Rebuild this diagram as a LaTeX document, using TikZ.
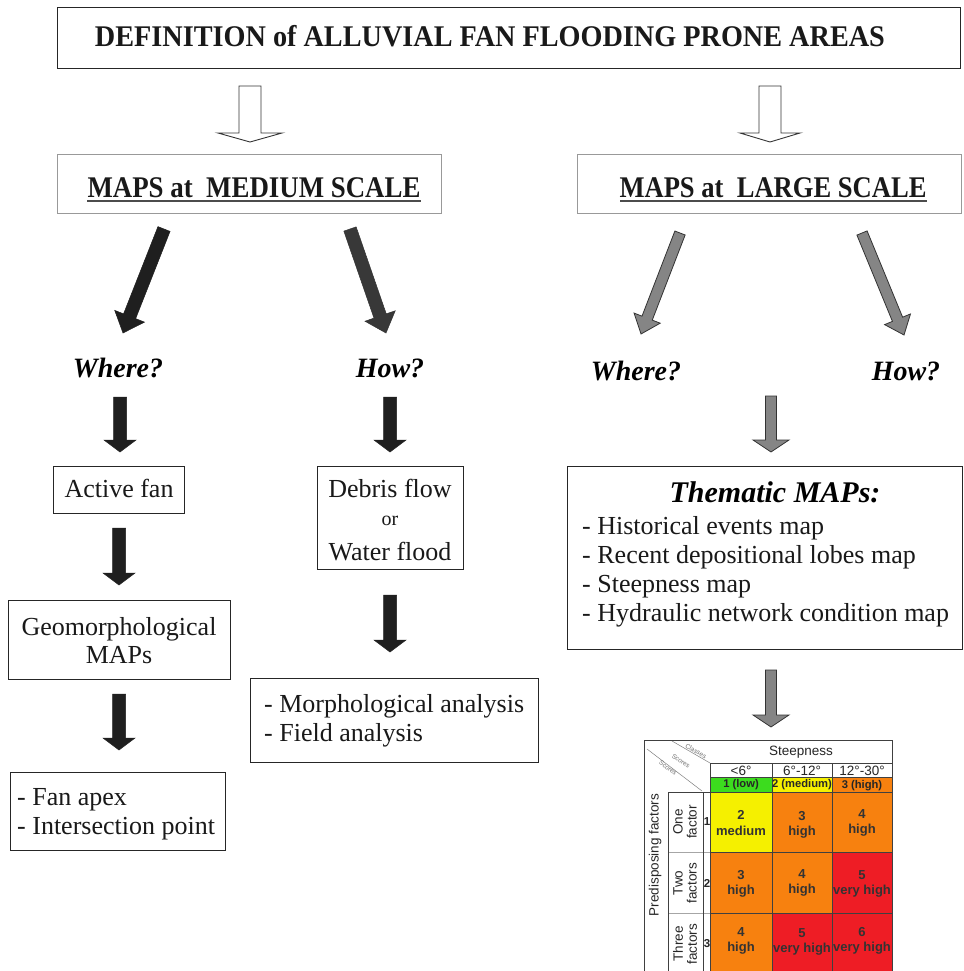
\documentclass[tikz,border=0pt]{standalone}
\usepackage{fontspec}
\setmainfont{Liberation Serif}
\setsansfont{Liberation Sans}
\usepackage{graphicx}
\usetikzlibrary{calc}
\definecolor{cgreen}{RGB}{60,220,30}
\definecolor{cyellow}{RGB}{245,240,0}
\definecolor{corange}{RGB}{247,129,15}
\definecolor{cred}{RGB}{238,29,37}
\newcommand{\fatarrow}[6]{%
  \coordinate (fahead) at ($(#3)!#6!(#2)$);
  \path[#1] ($(#2)!#4!90:(#3)$) -- ($(fahead)!#4!-90:(#2)$) -- ($(fahead)!#5!-90:(#2)$) -- (#3)
    -- ($(fahead)!#5!90:(#2)$) -- ($(fahead)!#4!90:(#2)$) -- ($(#2)!#4!-90:(#3)$) -- cycle;
}
\begin{document}
\begin{tikzpicture}[x=1pt,y=-1pt,
  box/.style={draw=black!85, line width=1pt, inner sep=0pt, anchor=north west},
  graybox/.style={draw=black!40, line width=1pt, inner sep=0pt, anchor=north west},
  blk/.style={fill=black!88, draw=black!88, line width=0.5pt},
  blk2/.style={fill=black!78, draw=black!80, line width=0.5pt},
  gry/.style={fill=black!48, draw=black!80, line width=0.8pt},
  hollow/.style={fill=white, draw=black!80, line width=0.9pt},
  quest/.style={font=\fontsize{28}{28}\selectfont\bfseries\itshape, anchor=base, inner sep=0pt},
  body/.style={font=\fontsize{26}{29}\selectfont, inner sep=0pt, text=black!90},
  head/.style={font=\fontsize{30}{30}\selectfont\bfseries, anchor=base, inner sep=0pt, text=black!90},
  tline/.style={draw=black!75, line width=0.6pt},
  lline/.style={draw=black!35, line width=0.6pt},
  cell/.style={font=\sffamily\bfseries\fontsize{13}{15.5}\selectfont, text=black!80, align=center, inner sep=0pt},
  hdr/.style={font=\sffamily\fontsize{13.5}{14}\selectfont, text=black!85, inner sep=0pt},
  sc/.style={font=\sffamily\bfseries\fontsize{11.2}{12}\selectfont, text=black!85, inner sep=0pt},
  lab/.style={font=\sffamily\fontsize{13.5}{14}\selectfont, text=black!85, align=center, inner sep=0pt, rotate=90},
  tiny/.style={font=\sffamily\fontsize{6.5}{7}\selectfont, text=black!55, inner sep=0pt}
]
\useasboundingbox (0,0) rectangle (963,971);
\clip (0,0) rectangle (963,971);
\fill[white] (0,0) rectangle (963,971);

% ---------- title ----------
\node[box, minimum width=903pt, minimum height=61pt] (title) at (57,7) {};
\node[head] (titletext) at (490,47) {\resizebox{790pt}{\height}{DEFINITION of ALLUVIAL FAN FLOODING PRONE AREAS}};

% hollow arrows
\coordinate (h1s) at (250,86); \coordinate (h1e) at (250,142);
\coordinate (h2s) at (770,86); \coordinate (h2e) at (770,142);
\fatarrow{hollow}{h1s}{h1e}{11pt}{32pt}{9pt}
\fatarrow{hollow}{h2s}{h2e}{11pt}{30pt}{9pt}

% ---------- scale boxes ----------
\node[graybox, minimum width=384pt, minimum height=59pt] (medium) at (57,154) {};
\node[head] (mediumtext) at (254,197) {\resizebox{333pt}{\height}{MAPS at\ \ MEDIUM SCALE}};
\draw[black!70, line width=1.6pt] (87,201) -- (421,201);
\node[graybox, minimum width=384pt, minimum height=59pt] (large) at (577,154) {};
\node[head] (largetext) at (773,197) {\resizebox{307pt}{\height}{MAPS at\ \ LARGE SCALE}};
\draw[black!70, line width=1.6pt] (620,201) -- (927,201);

% diagonal arrows
\coordinate (d1s) at (164,229); \coordinate (d1e) at (123,333);
\coordinate (d2s) at (350,229); \coordinate (d2e) at (386,333);
\coordinate (d3s) at (680,233); \coordinate (d3e) at (641,334);
\coordinate (d4s) at (862,233); \coordinate (d4e) at (904,335);
\fatarrow{blk}{d1s}{d1e}{6.5pt}{16pt}{18pt}
\fatarrow{blk2}{d2s}{d2e}{6.5pt}{16pt}{18pt}
\fatarrow{gry}{d3s}{d3e}{5.5pt}{14pt}{17pt}
\fatarrow{gry}{d4s}{d4e}{5.5pt}{14pt}{17pt}

% questions
\node[quest] (where1) at (118,377) {Where?};
\node[quest] (how1) at (390,377) {How?};
\node[quest] (where2) at (636,380) {Where?};
\node[quest] (how2) at (906,380) {How?};

% vertical arrows
\coordinate (v1s) at (120,397); \coordinate (v1e) at (120,452);
\coordinate (v2s) at (390,397); \coordinate (v2e) at (390,452);
\coordinate (v3s) at (771,396); \coordinate (v3e) at (771,452);
\fatarrow{blk}{v1s}{v1e}{6.5pt}{16pt}{12pt}
\fatarrow{blk}{v2s}{v2e}{6.5pt}{16pt}{12pt}
\fatarrow{gry}{v3s}{v3e}{5.5pt}{18pt}{12pt}

% ---------- left column ----------
\node[box, minimum width=131pt, minimum height=47pt] (active) at (53,466) {};
\node[body, anchor=base] (activetext) at (119,497) {Active fan};
\coordinate (v4s) at (119,528); \coordinate (v4e) at (119,585);
\fatarrow{blk}{v4s}{v4e}{6.5pt}{16pt}{12pt}
\node[box, minimum width=222pt, minimum height=79pt] (geo) at (8,600) {};
\node[body, anchor=base] (geotext1) at (119,635) {Geomorphological};
\node[body, anchor=base] (geotext2) at (119,663) {MAPs};
\coordinate (v5s) at (119,694); \coordinate (v5e) at (119,750);
\fatarrow{blk}{v5s}{v5e}{6.5pt}{16pt}{12pt}
\node[box, minimum width=215pt, minimum height=78pt] (apex) at (10,772) {};
\node[body, anchor=base west] (apex1) at (17,805) {- Fan apex};
\node[body, anchor=base west] (apex2) at (17,834) {- Intersection point};

% ---------- middle column ----------
\node[box, minimum width=146pt, minimum height=103pt] (debris) at (317,466) {};
\node[body, anchor=base] (debris1) at (390,497) {Debris flow};
\node[body, anchor=base, font=\fontsize{20}{22}\selectfont] (debris2) at (390,525) {or};
\node[body, anchor=base] (debris3) at (390,560) {Water flood};
\coordinate (v6s) at (390,595); \coordinate (v6e) at (390,652);
\fatarrow{blk}{v6s}{v6e}{6.5pt}{16pt}{12pt}
\node[box, minimum width=288pt, minimum height=84pt] (morph) at (250,678) {};
\node[body, anchor=base west] (morph1) at (264,712) {- Morphological analysis};
\node[body, anchor=base west] (morph2) at (264,741) {- Field analysis};

% ---------- right column ----------
\node[box, minimum width=395pt, minimum height=183pt] (them) at (567,466) {};
\node[quest, font=\fontsize{30}{30}\selectfont\bfseries\itshape] (themtitle) at (775,502) {Thematic MAPs:};
\node[body, anchor=base west] (them1) at (582,534) {- Historical events map};
\node[body, anchor=base west] (them2) at (582,563) {- Recent depositional lobes map};
\node[body, anchor=base west] (them3) at (582,592) {- Steepness map};
\node[body, anchor=base west] (them4) at (582,621) {- Hydraulic network condition map};
\coordinate (v7s) at (771,670); \coordinate (v7e) at (771,727);
\fatarrow{gry}{v7s}{v7e}{5.5pt}{18pt}{12pt}

% ---------- table ----------
\fill[cgreen] (710,777) rectangle (772,792);
\fill[cyellow] (772,777) rectangle (832,792);
\fill[corange] (832,777) rectangle (892,792);
\fill[cyellow] (710,792) rectangle (772,852);
\fill[corange] (772,792) rectangle (892,852);
\fill[corange] (710,852) rectangle (832,913);
\fill[cred] (832,852) rectangle (892,913);
\fill[corange] (710,913) rectangle (772,980);
\fill[cred] (772,913) rectangle (892,980);
\draw[tline] (644,980) -- (644,740) -- (892,740) -- (892,980);
\draw[tline] (710,763) -- (892,763);
\draw[tline] (710,777) -- (892,777);
\draw[tline] (668,792) -- (892,792);
\draw[lline] (668,852) -- (710,852);
\draw[lline] (668,913) -- (710,913);
\draw[tline] (710,852) -- (892,852);
\draw[tline] (710,913) -- (892,913);
\draw[tline] (710,763) -- (710,980);
\draw[tline] (772,763) -- (772,980);
\draw[tline] (832,763) -- (832,980);
\draw[tline] (668,792) -- (668,980);
\draw[tline] (703,792) -- (703,980);
\draw[black!50, line width=0.5pt] (672,741) -- (710,763);
\draw[black!50, line width=0.5pt] (647,749) -- (702,791);
\node[tiny, rotate=-30] (tclasses) at (696,751) {Classes};
\node[tiny, rotate=-34] (tscores1) at (681,761) {Scores};
\node[tiny, rotate=-36] (tscores2) at (668,768) {Scores};
\node[hdr] (steep) at (801,752) {Steepness};
\node[hdr] (c1) at (741,770.5) {<6°};
\node[hdr] (c2) at (802,770.5) {6°-12°};
\node[hdr] (c3) at (862,770.5) {12°-30°};
\node[sc] (s1) at (741,785) {1 (low)};
\node[sc] (s2) at (802,785) {2 (medium)};
\node[sc] (s3) at (862,786) {3 (high)};
\node[lab] (pred) at (655,855) {Predisposing factors};
\node[lab] (r1) at (685,822) {One\\factor};
\node[lab] (r2) at (685,883) {Two\\factors};
\node[lab] (r3) at (685,944) {Three\\factors};
\node[sc, font=\sffamily\bfseries\fontsize{11.5}{12}\selectfont] (n1) at (707,822) {1};
\node[sc, font=\sffamily\bfseries\fontsize{11.5}{12}\selectfont] (n2) at (707,883) {2};
\node[sc, font=\sffamily\bfseries\fontsize{11.5}{12}\selectfont] (n3) at (707,944) {3};
\node[cell] (x11) at (741,823) {2\\medium};
\node[cell] (x12) at (802,825) {3\\high};
\node[cell] (x13) at (862,823) {4\\high};
\node[cell] (x21) at (741,884) {3\\high};
\node[cell] (x22) at (802,883) {4\\high};
\node[cell] (x23) at (862,884) {5\\very high};
\node[cell] (x31) at (741,941) {4\\high};
\node[cell] (x32) at (802,942) {5\\very high};
\node[cell] (x33) at (862,941) {6\\very high};
\end{tikzpicture}
\end{document}
